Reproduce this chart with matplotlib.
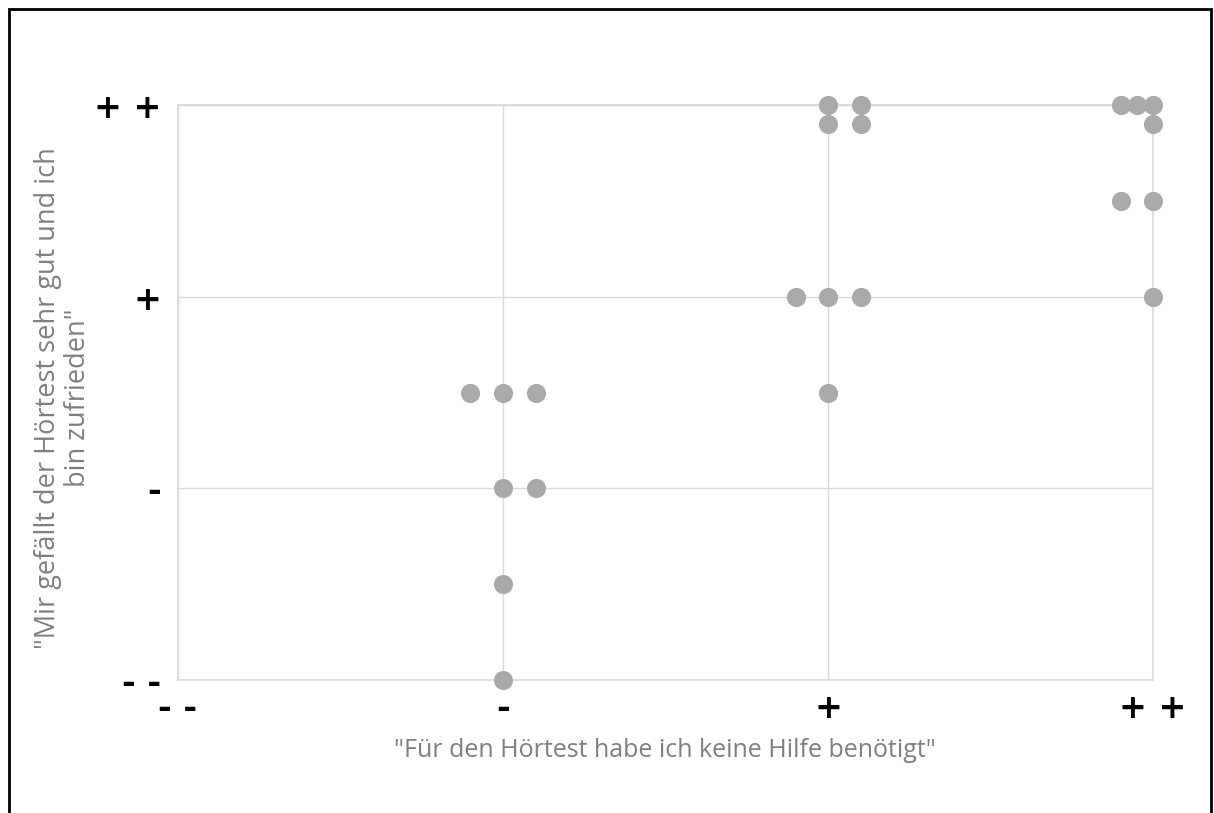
import matplotlib.pyplot as plt
from matplotlib.patches import Rectangle

# Antworten auf einer Skala von 0 (- -) bis 3 (+ +), leicht versetzt wenn mehrfach
x_vals = [0.9, 1.0, 1.1, 1.0, 1.1, 1.0, 1.0,
          2.0, 2.1, 2.0, 2.1, 1.9, 2.0, 2.1, 2.0,
          2.9, 2.95, 3.0, 3.0, 2.9, 3.0, 3.0]
y_vals = [1.5, 1.5, 1.5, 1.0, 1.0, 0.5, 0.0,
          3.0, 3.0, 2.9, 2.9, 2.0, 2.0, 2.0, 1.5,
          3.0, 3.0, 3.0, 2.9, 2.5, 2.5, 2.0]

tick_pos = [0, 1, 2, 3]
tick_labels = ['- -', '-', '+', '+ +']

x_title = '"Für den Hörtest habe ich keine Hilfe benötigt"'
y_title = '"Mir gefällt der Hörtest sehr gut und ich\nbin zufrieden"'

plt.rcParams['font.family'] = ['Open Sans', 'DejaVu Sans']

fig = plt.figure(figsize=(12.14, 8.13), dpi=100)
ax = fig.add_axes([0.1466, 0.1636, 0.8032, 0.7072])

ax.scatter(x_vals, y_vals, s=190, color='#aaaaaa', zorder=3, clip_on=False, linewidths=0)

ax.set_xlim(0, 3)
ax.set_ylim(0, 3)
ax.set_xticks(tick_pos)
ax.set_yticks(tick_pos)
ax.set_xticklabels(tick_labels, fontsize=24, fontweight='bold', family='DejaVu Sans')
ax.set_yticklabels(tick_labels, fontsize=24, fontweight='bold', family='DejaVu Sans')
ax.tick_params(length=0)
ax.tick_params(axis='x', pad=9)
ax.tick_params(axis='y', pad=12)
ax.grid(True, color='#d9d9d9', linewidth=1)
for sp in ax.spines.values():
    sp.set_color('#d9d9d9')
    sp.set_linewidth(1.2)

# Achsentitel als freie Texte
fig.text(665 / 1214, 1 - 750 / 813, x_title, fontsize=18, color='#7f7f7f',
         ha='center', va='center')
fig.text(63 / 1214, 1 - 398 / 813, y_title, fontsize=19.5, color='#7f7f7f',
         ha='center', va='center', rotation=90, linespacing=1.1,
         multialignment='center')

# Rahmen um die Grafik (unten abgeschnitten)
fig.patches.append(Rectangle((9 / 1214, -0.05), 1202 / 1214, 1.05 - 9 / 813,
                             transform=fig.transFigure, fill=False,
                             edgecolor='black', linewidth=2))

plt.savefig('out.png', dpi=100)
plt.close()
